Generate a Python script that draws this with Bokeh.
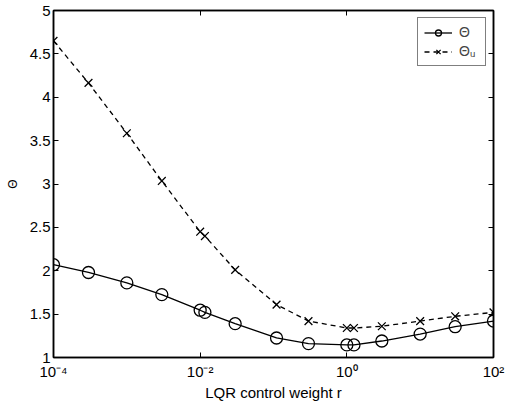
from bokeh.plotting import figure
from bokeh.models import (FixedTicker, LogAxis, LinearAxis, Legend, LegendItem,
                          CustomJSTickFormatter, Range1d)
from bokeh.embed import file_html
from bokeh.resources import INLINE

# data
r = [1e-4, 3e-4, 1e-3, 3e-3, 1e-2, 0.0116, 3e-2, 0.11, 0.3, 1.0, 1.25, 3.0, 10.0, 30.0, 100.0]
theta = [2.07, 1.98, 1.86, 1.725, 1.545, 1.52, 1.39, 1.225, 1.16, 1.145, 1.145, 1.19, 1.27, 1.355, 1.42]
theta_u = [4.65, 4.165, 3.585, 3.035, 2.45, 2.40, 2.01, 1.61, 1.42, 1.34, 1.34, 1.36, 1.42, 1.475, 1.52]
x_ticks = [1e-4, 1e-2, 1.0, 1e2]
y_ticks = [1, 1.5, 2, 2.5, 3, 3.5, 4, 4.5, 5]

FONT = "Liberation Sans"

p = figure(width=505, height=405, x_axis_type="log", output_backend="svg",
           toolbar_location=None, x_range=Range1d(1e-4, 1e2), y_range=Range1d(1, 5),
           min_border_left=53, min_border_right=12, min_border_top=10, min_border_bottom=48)
p.background_fill_color = "white"
p.border_fill_color = "white"
p.grid.visible = False
p.outline_line_color = "black"
p.outline_line_width = 1.5

fmt = CustomJSTickFormatter(code="""
const sup = {'-':'\\u207b','0':'\\u2070','1':'\\u00b9','2':'\\u00b2','3':'\\u00b3','4':'\\u2074','5':'\\u2075','6':'\\u2076','7':'\\u2077','8':'\\u2078','9':'\\u2079'};
const e = String(Math.round(Math.log10(tick)));
let s = '';
for (const c of e) s += sup[c];
return '10' + s;
""")
blank = CustomJSTickFormatter(code="return '';")

xa = p.xaxis[0]
xa.ticker = FixedTicker(ticks=x_ticks, minor_ticks=[])
xa.formatter = fmt
xa.axis_label = "LQR control weight r"
ya = p.yaxis[0]
ya.ticker = FixedTicker(ticks=y_ticks, minor_ticks=[])
ya.axis_label = "\u0398"

for ax in (xa, ya):
    ax.axis_line_color = "black"
    ax.axis_line_width = 1.5
    ax.major_tick_in = 5
    ax.major_tick_out = 0
    ax.minor_tick_in = 0
    ax.minor_tick_out = 0
    ax.major_label_text_font = FONT
    ax.major_label_text_font_size = "15px"
    ax.major_label_text_color = "black"
    ax.axis_label_text_font = FONT
    ax.axis_label_text_font_style = "normal"
    ax.axis_label_text_color = "black"
xa.axis_label_text_font_size = "15px"
xa.major_label_standoff = 5
xa.axis_label_standoff = 1
ya.axis_label_text_font_size = "12px"
ya.major_label_standoff = 3
ya.axis_label_standoff = 7

top = LogAxis(ticker=FixedTicker(ticks=x_ticks, minor_ticks=[]), formatter=blank,
              major_label_standoff=0,
              major_tick_in=5, major_tick_out=0, minor_tick_in=0, minor_tick_out=0,
              axis_line_color="black", axis_line_width=1.5)
right = LinearAxis(ticker=FixedTicker(ticks=y_ticks, minor_ticks=[]), formatter=blank,
                   major_label_standoff=0,
                   major_tick_in=5, major_tick_out=0, minor_tick_in=0, minor_tick_out=0,
                   axis_line_color="black", axis_line_width=1.5)
p.add_layout(top, "above")
p.add_layout(right, "right")

l1 = p.line(r, theta, line_color="black", line_width=1.3)
m1 = p.scatter(r, theta, marker="circle", size=12, fill_alpha=0, line_color="black", line_width=1.3)
l2 = p.line(r, theta_u, line_color="black", line_width=1.3, line_dash="5 4")
m2 = p.scatter(r, theta_u, marker="x", size=11, line_color="black", line_width=1.3)

legend = Legend(items=[LegendItem(label="\u0398", renderers=[l1, m1]),
                       LegendItem(label="\u0398\u1d64", renderers=[l2, m2])],
                location="top_right")
legend.border_line_color = "black"
legend.border_line_width = 1
legend.label_text_font = FONT
legend.label_text_font_size = "14px"
legend.glyph_width = 28
legend.glyph_height = 15
legend.spacing = 3
legend.padding = 6
legend.margin = 7
legend.label_standoff = 7
legend.background_fill_alpha = 1
p.add_layout(legend, "center")

open("out.html", "w").write(file_html(p, INLINE))
